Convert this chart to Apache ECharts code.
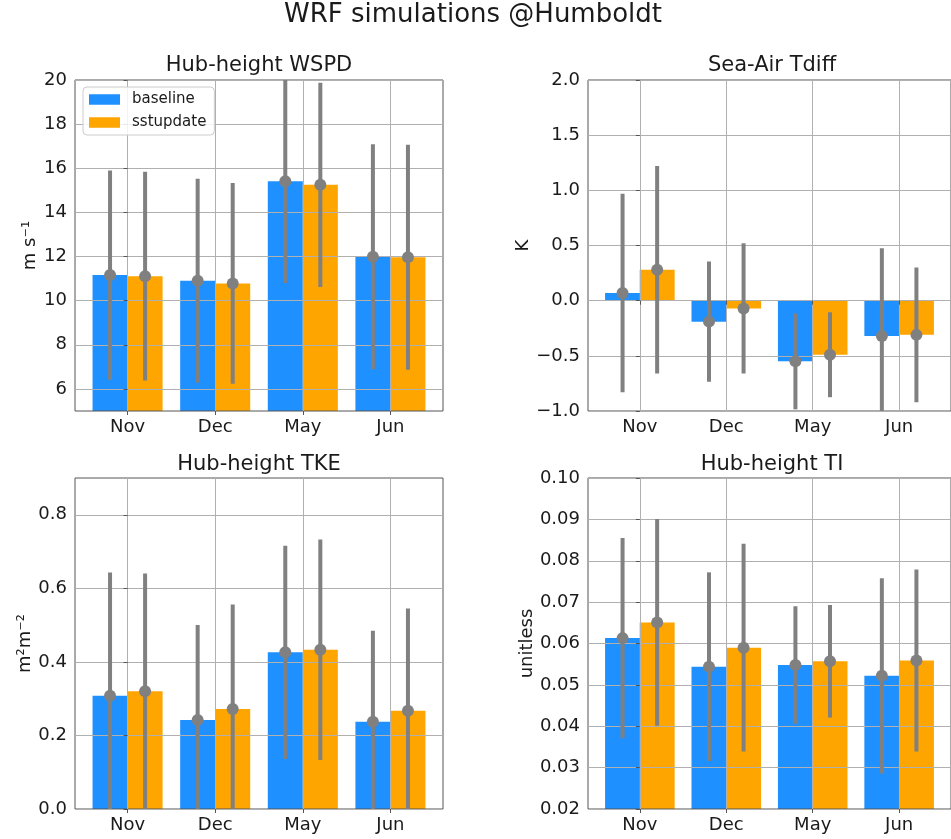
<!DOCTYPE html>
<html><head><meta charset="utf-8">
<script src="https://cdn.jsdelivr.net/npm/echarts@6/dist/echarts.min.js"></script>
<style>html,body{margin:0;padding:0;background:#fff}#c{width:951px;height:839px}</style>
</head><body><div id="c"></div>
<script>
// ---- data ----
const months = ['Nov', 'Dec', 'May', 'Jun'];
const seriesNames = ['baseline', 'sstupdate'];

const wspdBase = [11.16, 10.90, 15.41, 11.99];
const wspdSst = [11.11, 10.78, 15.25, 11.97];
const wspdBaseStd = [4.74, 4.62, 4.61, 5.10];
const wspdSstStd = [4.73, 4.55, 4.63, 5.10];

const tdiffBase = [0.07, -0.19, -0.55, -0.32];
const tdiffSst = [0.28, -0.07, -0.49, -0.31];
const tdiffBaseStd = [0.90, 0.545, 0.435, 0.795];
const tdiffSstStd = [0.94, 0.59, 0.385, 0.61];

const tkeBase = [0.308, 0.242, 0.426, 0.237];
const tkeSst = [0.320, 0.272, 0.433, 0.267];
const tkeBaseStd = [0.335, 0.258, 0.29, 0.248];
const tkeSstStd = [0.32, 0.284, 0.30, 0.278];

const tiBase = [0.0613, 0.0544, 0.0548, 0.0522];
const tiSst = [0.0651, 0.0590, 0.0557, 0.0559];
const tiBaseStd = [0.0242, 0.0228, 0.0142, 0.0236];
const tiSstStd = [0.0250, 0.0251, 0.0136, 0.0220];

const wspdTicks = [6, 8, 10, 12, 14, 16, 18, 20];
const tdiffTicks = [-1.0, -0.5, 0.0, 0.5, 1.0, 1.5, 2.0];
const tkeTicks = [0.0, 0.2, 0.4, 0.6, 0.8];
const tiTicks = [0.02, 0.03, 0.04, 0.05, 0.06, 0.07, 0.08, 0.09, 0.10];

const wspdRange = [5, 20];
const tdiffRange = [-1, 2];
const tkeRange = [0, 0.9];
const tiRange = [0.02, 0.10];

const mainTitle = 'WRF simulations @Humboldt';
const panelTitles = ['Hub-height WSPD', 'Sea-Air Tdiff', 'Hub-height TKE', 'Hub-height TI'];
const yNames = ['m s\u207B\u00B9', 'K', 'm\u00B2m\u207B\u00B2', 'unitless'];

// ---- styling ----
const FONT = 'DejaVu Sans';
const TXT = '#1a1a1a';
const SPINE = '#555555';
const GRIDC = '#b0b0b0';
const BLUE = '#1E90FF';
const ORANGE = '#FFA500';
const ERR = '#808080';

const panels = [
  {base: wspdBase, sst: wspdSst, bStd: wspdBaseStd, sStd: wspdSstStd, ticks: wspdTicks, range: wspdRange, dec: 0, gap: 36},
  {base: tdiffBase, sst: tdiffSst, bStd: tdiffBaseStd, sStd: tdiffSstStd, ticks: tdiffTicks, range: tdiffRange, dec: 1, gap: 54},
  {base: tkeBase, sst: tkeSst, bStd: tkeBaseStd, sStd: tkeSstStd, ticks: tkeTicks, range: tkeRange, dec: 1, gap: 41},
  {base: tiBase, sst: tiSst, bStd: tiBaseStd, sStd: tiSstStd, ticks: tiTicks, range: tiRange, dec: 2, gap: 51}
];

const grids = [
  {left: 75, top: 80, width: 368, height: 331},
  {left: 588, top: 80, width: 368, height: 331},
  {left: 75, top: 478, width: 368, height: 331},
  {left: 588, top: 478, width: 368, height: 331}
];
const titlePos = [[259, 55], [772, 55], [259, 454], [772, 454]];

const monthIdx = months.map((m, i) => i);

function fmt(v, dec) {
  const s = Math.abs(v).toFixed(dec);
  return (v < -1e-9 ? '\u2212' : '') + s;
}

function renderErr(params, api) {
  const x = api.value(0), m = api.value(1), s = api.value(2);
  const top = api.coord([x, m + s]);
  const bot = api.coord([x, m - s]);
  const c = api.coord([x, m]);
  const cs = params.coordSys;
  const y1 = Math.max(top[1], cs.y);
  const y2 = Math.min(bot[1], cs.y + cs.height);
  return {
    type: 'group',
    children: [
      {type: 'line', shape: {x1: c[0], y1: y1, x2: c[0], y2: y2}, style: {stroke: ERR, lineWidth: 4}},
      {type: 'circle', shape: {cx: c[0], cy: c[1], r: 6}, style: {fill: ERR}}
    ]
  };
}

const option = {
  animation: false,
  backgroundColor: '#ffffff',
  textStyle: {fontFamily: FONT},
  title: [{text: mainTitle, left: 473, top: 2, textAlign: 'center', padding: 0,
           textStyle: {fontSize: 26, fontWeight: 'normal', color: TXT, fontFamily: FONT}}]
    .concat(panelTitles.map((t, k) => ({
      text: t, left: titlePos[k][0], top: titlePos[k][1], textAlign: 'center', padding: 0,
      textStyle: {fontSize: 21, fontWeight: 'normal', color: TXT, fontFamily: FONT}
    }))),
  legend: {
    data: seriesNames,
    selectedMode: false,
    orient: 'vertical',
    left: 83, top: 87,
    icon: 'rect', itemWidth: 31, itemHeight: 10.5, itemGap: 8,
    padding: [5, 8, 5, 6],
    backgroundColor: 'rgba(255,255,255,0.85)',
    borderColor: '#cccccc', borderWidth: 1, borderRadius: 4,
    textStyle: {fontSize: 15, color: TXT, fontFamily: FONT, padding: [0, 0, 0, 7]}
  },
  grid: grids.map(g => Object.assign({show: true, borderColor: SPINE, borderWidth: 1, backgroundColor: 'transparent', containLabel: false}, g)),
  xAxis: panels.map((p, k) => ({
    type: 'value', gridIndex: k, min: -0.6, max: 3.6,
    axisLine: {show: false},
    axisTick: {show: true, customValues: monthIdx, length: 4, lineStyle: {color: SPINE}},
    axisLabel: {customValues: monthIdx, formatter: v => months[Math.round(v)], fontSize: 18, color: TXT, fontFamily: FONT, margin: 7},
    splitLine: {show: true, lineStyle: {color: GRIDC, width: 1}}
  })),
  yAxis: panels.map((p, k) => ({
    type: 'value', gridIndex: k, min: p.range[0], max: p.range[1],
    name: yNames[k], nameLocation: 'middle', nameRotate: 90, nameGap: p.gap,
    nameTextStyle: {fontSize: 18, color: TXT, fontFamily: FONT},
    axisLine: {show: false},
    axisTick: {show: true, customValues: p.ticks, length: 4, lineStyle: {color: SPINE}},
    axisLabel: {customValues: p.ticks, formatter: v => fmt(v, p.dec), fontSize: 18, color: TXT, fontFamily: FONT, margin: 8},
    splitLine: {show: true, lineStyle: {color: GRIDC, width: 1}}
  })),
  series: []
};

panels.forEach((p, k) => {
  option.series.push({
    type: 'bar', name: seriesNames[0], xAxisIndex: k, yAxisIndex: k, z: -1, silent: true,
    barWidth: 35, barGap: '-100%', itemStyle: {color: BLUE},
    data: p.base.map((v, i) => [i - 0.2, v])
  });
  option.series.push({
    type: 'bar', name: seriesNames[1], xAxisIndex: k, yAxisIndex: k, z: -1, silent: true,
    barWidth: 35, barGap: '-100%', itemStyle: {color: ORANGE},
    data: p.sst.map((v, i) => [i + 0.2, v])
  });
  option.series.push({
    type: 'custom', name: 'err' + k, xAxisIndex: k, yAxisIndex: k, z: 5, silent: true,
    renderItem: renderErr, encode: {x: 0, y: 1},
    data: p.base.map((v, i) => [i - 0.2, v, p.bStd[i]]).concat(p.sst.map((v, i) => [i + 0.2, v, p.sStd[i]]))
  });
});

const chart = echarts.init(document.getElementById('c'), null, {renderer: 'canvas'});
chart.setOption(option);
</script>
</body></html>
